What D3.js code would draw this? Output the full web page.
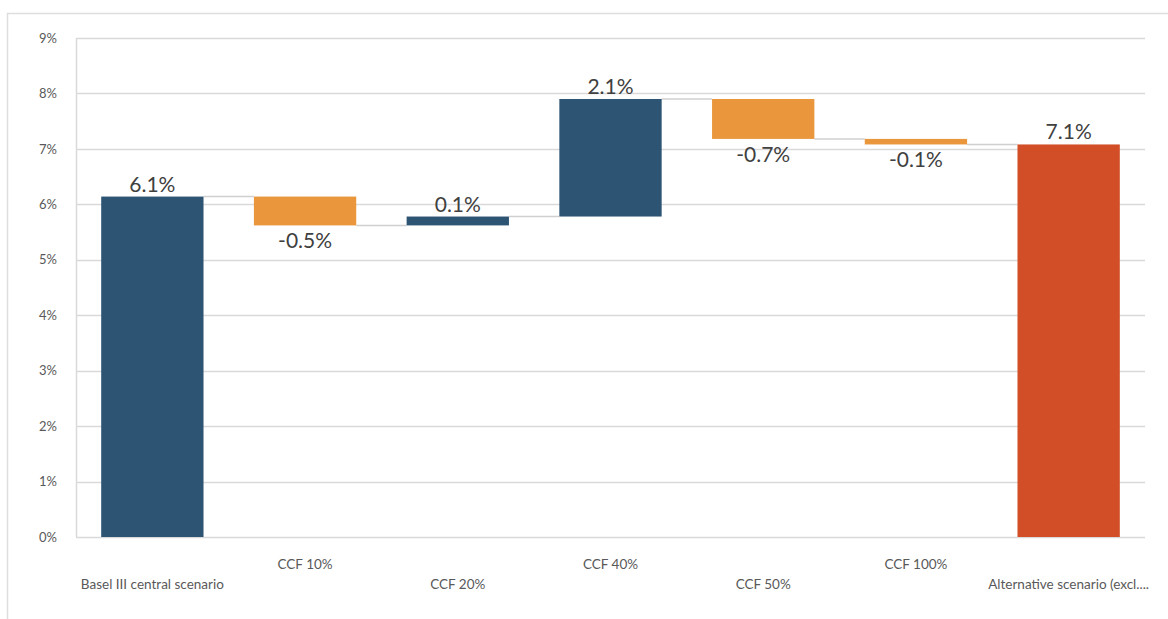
<!DOCTYPE html>
<html>
<head>
<meta charset="utf-8">
<script src="https://cdn.jsdelivr.net/npm/d3@7"></script>
<style>
  body { margin: 0; background: #fff; }
  text { font-family: Lato, "Open Sans", sans-serif; }
</style>
</head>
<body>
<div id="chart"></div>
<script>
// data
var categories = ["Basel III central scenario", "CCF 10%", "CCF 20%", "CCF 40%", "CCF 50%", "CCF 100%", "Alternative scenario (excl...."];
var steps = [6.14, -0.52, 0.16, 2.12, -0.72, -0.10, 7.08]; // first and last are totals
var valueLabels = ["6.1%", "-0.5%", "0.1%", "2.1%", "-0.7%", "-0.1%", "7.1%"];
var yTicks = [0, 1, 2, 3, 4, 5, 6, 7, 8, 9];

var W = 1168, H = 619;
var margin = { top: 38, right: 23, bottom: 82, left: 76 },
  width = W - margin.left - margin.right,
  height = H - margin.top - margin.bottom;

var svg = d3.select("#chart").append("svg")
  .attr("width", W).attr("height", H);

// outer frame
svg.append("path")
  .attr("d", "M7.5," + H + "V13.5H" + W)
  .attr("fill", "none").attr("stroke", "#dedede").attr("stroke-width", 1.5);

var g = svg.append("g")
  .attr("transform", "translate(" + margin.left + "," + margin.top + ")");

var x = d3.scaleBand().domain(categories).range([0, width]).paddingInner(0.33).paddingOuter(0.165);
var y = d3.scaleLinear().domain([0, 9]).range([height, 0]);

// build waterfall rows
var rows = [], run = 0;
steps.forEach(function (v, i) {
  var total = (i === 0 || i === steps.length - 1);
  var start = total ? 0 : run;
  var end = total ? v : run + v;
  run = end;
  rows.push({ cat: categories[i], start: start, end: end, v: v, total: total, i: i, label: valueLabels[i] });
});

// grid
g.selectAll(".grid").data(yTicks).enter().append("line")
  .attr("x1", 0).attr("x2", width)
  .attr("y1", function (d) { return Math.round(y(d)) + 0.5; })
  .attr("y2", function (d) { return Math.round(y(d)) + 0.5; })
  .attr("stroke", "#d9d9d9").attr("stroke-width", 1.5);

g.append("line").attr("x1", 0.5).attr("x2", 0.5).attr("y1", 0).attr("y2", height)
  .attr("stroke", "#d9d9d9").attr("stroke-width", 1.5);

// y axis labels
var yAxis = g.append("g").call(d3.axisLeft(y).tickValues(yTicks).tickSize(0).tickPadding(19)
  .tickFormat(function (d) { return d + "%"; }));
yAxis.select(".domain").remove();
yAxis.selectAll("text").attr("font-size", 13).attr("fill", "#595959").style("font-family", "Lato, sans-serif");

// connectors
g.selectAll(".conn").data(rows.slice(0, -1)).enter().append("line")
  .attr("x1", function (d) { return x(d.cat) + x.bandwidth(); })
  .attr("x2", function (d) { return x(categories[d.i + 1]); })
  .attr("y1", function (d) { return y(d.end); })
  .attr("y2", function (d) { return y(d.end); })
  .attr("stroke", "#d0d0d0").attr("stroke-width", 1.5);

// bars
function color(d) {
  if (d.i === steps.length - 1) return "#d24e27";
  if (d.total || d.v >= 0) return "#2d5473";
  return "#e9963d";
}
g.selectAll(".bar").data(rows).enter().append("rect")
  .attr("x", function (d) { return x(d.cat); })
  .attr("width", x.bandwidth())
  .attr("y", function (d) { return y(Math.max(d.start, d.end)); })
  .attr("height", function (d) { return Math.abs(y(d.start) - y(d.end)); })
  .attr("fill", color);

// value labels
g.selectAll(".val").data(rows).enter().append("text")
  .attr("x", function (d) { return x(d.cat) + x.bandwidth() / 2; })
  .attr("y", function (d) {
    return d.v >= 0 ? y(Math.max(d.start, d.end)) - 5 : y(Math.min(d.start, d.end)) + 23;
  })
  .attr("text-anchor", "middle")
  .attr("font-size", 21)
  .attr("fill", "#404040")
  .text(function (d) { return d.label; });

// category labels, staggered
g.selectAll(".cat").data(categories).enter().append("text")
  .attr("x", function (d) { return x(d) + x.bandwidth() / 2; })
  .attr("y", function (d, i) { return height + (i % 2 === 0 ? 52 : 32); })
  .attr("text-anchor", "middle")
  .attr("font-size", 13.5)
  .attr("fill", "#595959")
  .text(function (d) { return d; });
</script>
</body>
</html>
